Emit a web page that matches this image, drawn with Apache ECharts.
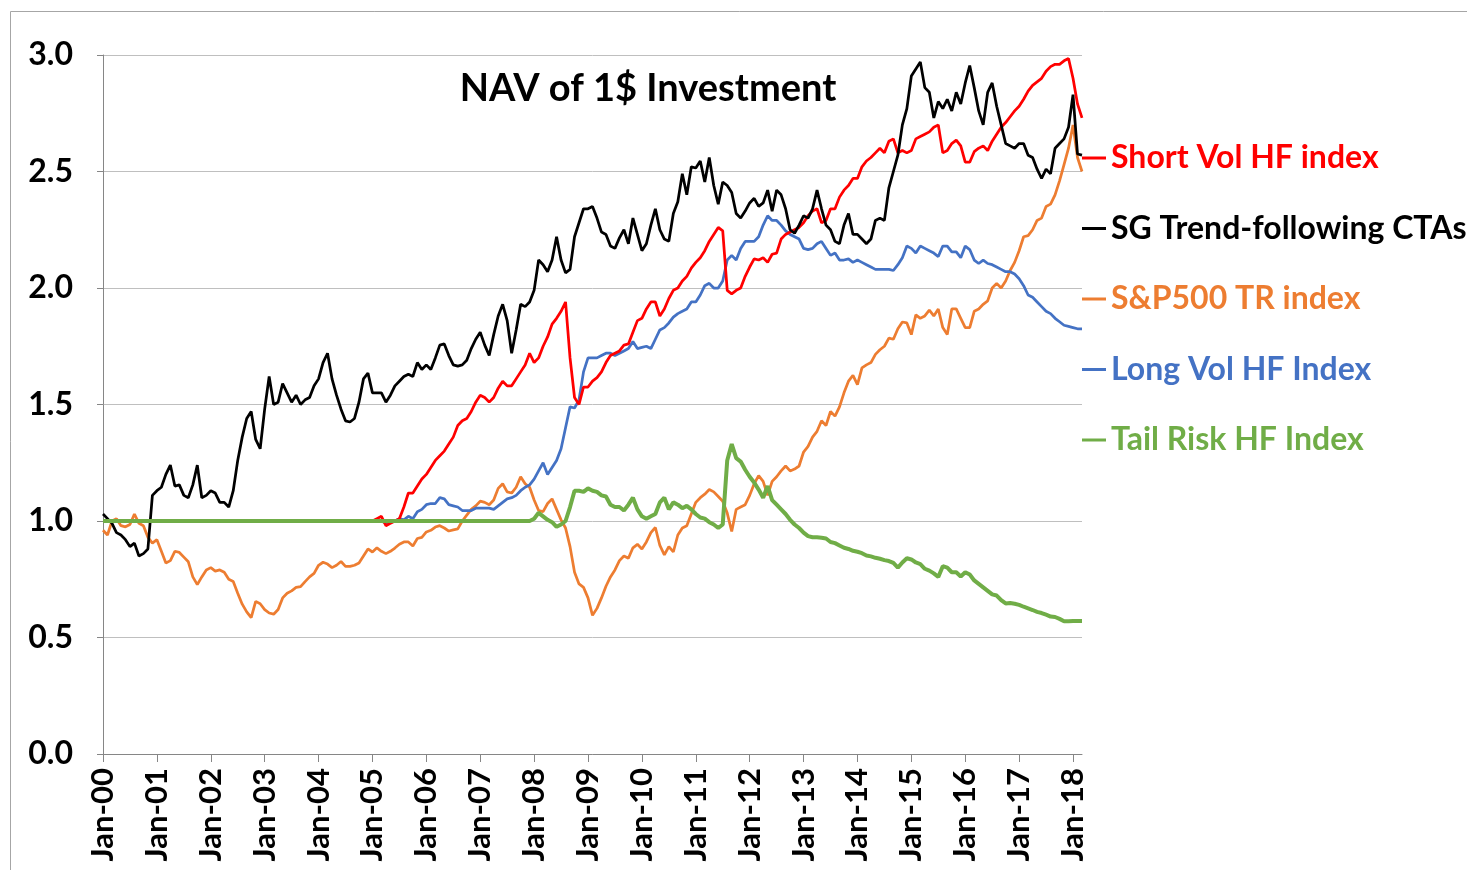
<!DOCTYPE html>
<html>
<head>
<meta charset="utf-8">
<title>NAV of 1$ Investment</title>
<script src="https://cdn.jsdelivr.net/npm/echarts@6/dist/echarts.min.js"></script>
<style>
  html, body { margin: 0; padding: 0; background: #fff; }
  #chart { width: 1467px; height: 870px; }
</style>
</head>
<body>
<div id="chart"></div>
<script>
// month labels Jan-00 .. Mar-18
const monthNames = ['Jan','Feb','Mar','Apr','May','Jun','Jul','Aug','Sep','Oct','Nov','Dec'];
const categories = [];
for (let y = 0; y <= 18; y++) {
  for (let m = 0; m < 12; m++) {
    if (y === 18 && m > 2) break;
    categories.push(monthNames[m] + '-' + String(y).padStart(2, '0'));
  }
}

// one row per year (2018: Jan-Mar)
const shortVol = [
  1.0, 1.0, 1.0, 1.0, 1.0, 1.0, 1.0, 1.0, 1.0, 1.0, 1.0, 1.0,
  1.0, 1.0, 1.0, 1.0, 1.0, 1.0, 1.0, 1.0, 1.0, 1.0, 1.0, 1.0,
  1.0, 1.0, 1.0, 1.0, 1.0, 1.0, 1.0, 1.0, 1.0, 1.0, 1.0, 1.0,
  1.0, 1.0, 1.0, 1.0, 1.0, 1.0, 1.0, 1.0, 1.0, 1.0, 1.0, 1.0,
  1.0, 1.0, 1.0, 1.0, 1.0, 1.0, 1.0, 1.0, 1.0, 1.0, 1.0, 1.0,
  1.0, 1.01, 1.02, 0.98, 0.99, 1.0, 1.01, 1.06, 1.12, 1.12, 1.15, 1.18,
  1.20, 1.23, 1.26, 1.28, 1.30, 1.33, 1.36, 1.41, 1.43, 1.44, 1.47, 1.51,
  1.54, 1.53, 1.51, 1.53, 1.57, 1.60, 1.58, 1.58, 1.61, 1.64, 1.67, 1.72,
  1.68, 1.70, 1.75, 1.79, 1.845, 1.87, 1.90, 1.94, 1.70, 1.53, 1.50, 1.575,
  1.575, 1.60, 1.615, 1.64, 1.68, 1.71, 1.72, 1.73, 1.755, 1.76, 1.81, 1.86,
  1.87, 1.91, 1.94, 1.94, 1.88, 1.91, 1.955, 1.99, 2.00, 2.03, 2.05, 2.085,
  2.11, 2.13, 2.16, 2.20, 2.23, 2.26, 2.245, 1.99, 1.975, 1.99, 2.00, 2.05,
  2.09, 2.125, 2.12, 2.13, 2.11, 2.145, 2.15, 2.21, 2.23, 2.24, 2.25, 2.26,
  2.28, 2.31, 2.33, 2.34, 2.28, 2.29, 2.34, 2.34, 2.39, 2.42, 2.44, 2.47,
  2.47, 2.52, 2.545, 2.56, 2.58, 2.60, 2.58, 2.63, 2.64, 2.58, 2.59, 2.58,
  2.59, 2.64, 2.65, 2.66, 2.67, 2.69, 2.70, 2.58, 2.59, 2.62, 2.635, 2.61,
  2.54, 2.54, 2.585, 2.60, 2.61, 2.59, 2.63, 2.66, 2.69, 2.71, 2.735, 2.76,
  2.78, 2.81, 2.845, 2.87, 2.885, 2.90, 2.93, 2.95, 2.96, 2.96, 2.975, 2.985,
  2.90, 2.79, 2.73
];

const sgTrend = [
  1.03, 1.01, 0.99, 0.95, 0.94, 0.92, 0.89, 0.905, 0.85, 0.86, 0.88, 1.11,
  1.13, 1.145, 1.20, 1.24, 1.15, 1.155, 1.11, 1.10, 1.155, 1.24, 1.10, 1.11,
  1.13, 1.12, 1.08, 1.08, 1.06, 1.13, 1.26, 1.36, 1.44, 1.47, 1.35, 1.31,
  1.48, 1.62, 1.50, 1.51, 1.59, 1.55, 1.51, 1.54, 1.50, 1.52, 1.53, 1.58,
  1.61, 1.68, 1.72, 1.61, 1.54, 1.48, 1.43, 1.425, 1.44, 1.51, 1.61, 1.635,
  1.55, 1.55, 1.55, 1.51, 1.54, 1.58, 1.60, 1.62, 1.63, 1.62, 1.68, 1.65,
  1.67, 1.65, 1.70, 1.755, 1.76, 1.71, 1.67, 1.665, 1.67, 1.69, 1.74, 1.78,
  1.81, 1.755, 1.71, 1.80, 1.88, 1.93, 1.86, 1.72, 1.82, 1.93, 1.92, 1.94,
  1.99, 2.12, 2.10, 2.07, 2.12, 2.22, 2.12, 2.065, 2.08, 2.22, 2.28, 2.34,
  2.34, 2.35, 2.30, 2.24, 2.23, 2.18, 2.17, 2.215, 2.25, 2.19, 2.30, 2.23,
  2.16, 2.19, 2.27, 2.34, 2.25, 2.21, 2.20, 2.32, 2.37, 2.49, 2.40, 2.52,
  2.515, 2.545, 2.455, 2.56, 2.44, 2.36, 2.455, 2.44, 2.41, 2.32, 2.30, 2.33,
  2.365, 2.385, 2.35, 2.365, 2.42, 2.33, 2.42, 2.40, 2.34, 2.25, 2.235, 2.27,
  2.31, 2.30, 2.34, 2.42, 2.34, 2.27, 2.25, 2.20, 2.19, 2.27, 2.32, 2.23,
  2.23, 2.21, 2.19, 2.21, 2.29, 2.30, 2.29, 2.43, 2.50, 2.57, 2.70, 2.77,
  2.91, 2.94, 2.97, 2.86, 2.84, 2.73, 2.80, 2.77, 2.81, 2.76, 2.84, 2.79,
  2.88, 2.955, 2.86, 2.76, 2.70, 2.84, 2.88, 2.78, 2.70, 2.62, 2.61, 2.60,
  2.62, 2.62, 2.57, 2.56, 2.51, 2.47, 2.51, 2.49, 2.60, 2.62, 2.64, 2.69,
  2.83, 2.575, 2.57
];

const sp500 = [
  0.96, 0.94, 1.0, 1.01, 0.98, 0.975, 0.985, 1.03, 0.99, 0.98, 0.93, 0.905,
  0.92, 0.87, 0.82, 0.83, 0.87, 0.865, 0.845, 0.825, 0.76, 0.727, 0.76, 0.79,
  0.80, 0.785, 0.79, 0.78, 0.75, 0.74, 0.69, 0.643, 0.61, 0.585, 0.655, 0.645,
  0.62, 0.605, 0.60, 0.62, 0.67, 0.69, 0.70, 0.715, 0.718, 0.74, 0.76, 0.775,
  0.81, 0.823, 0.815, 0.80, 0.81, 0.826, 0.805, 0.805, 0.81, 0.82, 0.85, 0.88,
  0.867, 0.885, 0.87, 0.86, 0.87, 0.884, 0.90, 0.91, 0.91, 0.893, 0.925, 0.93,
  0.953, 0.96, 0.974, 0.98, 0.97, 0.957, 0.962, 0.966, 1.0, 1.025, 1.05, 1.065,
  1.085, 1.08, 1.07, 1.09, 1.14, 1.16, 1.125, 1.12, 1.145, 1.19, 1.16, 1.145,
  1.09, 1.045, 1.04, 1.075, 1.095, 1.05, 1.005, 0.97, 0.89, 0.78, 0.73, 0.715,
  0.67, 0.595, 0.625, 0.67, 0.72, 0.76, 0.79, 0.83, 0.85, 0.84, 0.885, 0.90,
  0.88, 0.91, 0.95, 0.972, 0.895, 0.855, 0.89, 0.867, 0.94, 0.97, 0.98, 1.03,
  1.08, 1.10, 1.115, 1.135, 1.125, 1.105, 1.085, 1.034, 0.955, 1.05, 1.06, 1.07,
  1.11, 1.16, 1.195, 1.17, 1.11, 1.17, 1.19, 1.215, 1.236, 1.215, 1.223, 1.236,
  1.296, 1.32, 1.36, 1.385, 1.43, 1.41, 1.47, 1.45, 1.49, 1.55, 1.60, 1.625,
  1.585, 1.657, 1.67, 1.68, 1.715, 1.735, 1.75, 1.785, 1.78, 1.825, 1.854, 1.85,
  1.80, 1.885, 1.87, 1.88, 1.905, 1.88, 1.91, 1.83, 1.80, 1.91, 1.91, 1.87,
  1.83, 1.83, 1.90, 1.91, 1.93, 1.945, 2.0, 2.02, 2.0, 2.03, 2.075, 2.11,
  2.16, 2.22, 2.225, 2.25, 2.29, 2.30, 2.35, 2.36, 2.40, 2.46, 2.53, 2.60,
  2.70, 2.56, 2.50
];

const longVol = [
  1.0, 1.0, 1.0, 1.0, 1.0, 1.0, 1.0, 1.0, 1.0, 1.0, 1.0, 1.0,
  1.0, 1.0, 1.0, 1.0, 1.0, 1.0, 1.0, 1.0, 1.0, 1.0, 1.0, 1.0,
  1.0, 1.0, 1.0, 1.0, 1.0, 1.0, 1.0, 1.0, 1.0, 1.0, 1.0, 1.0,
  1.0, 1.0, 1.0, 1.0, 1.0, 1.0, 1.0, 1.0, 1.0, 1.0, 1.0, 1.0,
  1.0, 1.0, 1.0, 1.0, 1.0, 1.0, 1.0, 1.0, 1.0, 1.0, 1.0, 1.0,
  1.0, 1.0, 1.0, 0.99, 0.995, 1.0, 1.01, 1.005, 1.02, 1.01, 1.04, 1.05,
  1.07, 1.075, 1.075, 1.10, 1.095, 1.07, 1.065, 1.06, 1.045, 1.045, 1.045, 1.055,
  1.055, 1.055, 1.055, 1.05, 1.065, 1.08, 1.095, 1.10, 1.11, 1.13, 1.145, 1.155,
  1.18, 1.215, 1.25, 1.20, 1.23, 1.26, 1.31, 1.40, 1.49, 1.485, 1.52, 1.64,
  1.70, 1.70, 1.70, 1.71, 1.72, 1.72, 1.71, 1.72, 1.73, 1.74, 1.77, 1.74,
  1.745, 1.75, 1.74, 1.78, 1.82, 1.83, 1.85, 1.875, 1.89, 1.90, 1.91, 1.94,
  1.94, 1.97, 2.01, 2.02, 2.00, 2.00, 2.03, 2.12, 2.14, 2.12, 2.17, 2.20,
  2.20, 2.20, 2.22, 2.27, 2.31, 2.29, 2.29, 2.27, 2.245, 2.23, 2.22, 2.21,
  2.17, 2.165, 2.17, 2.19, 2.20, 2.17, 2.14, 2.15, 2.12, 2.12, 2.125, 2.11,
  2.12, 2.11, 2.10, 2.09, 2.08, 2.08, 2.08, 2.08, 2.075, 2.10, 2.13, 2.18,
  2.17, 2.15, 2.18, 2.17, 2.16, 2.15, 2.135, 2.18, 2.18, 2.155, 2.155, 2.13,
  2.18, 2.165, 2.12, 2.105, 2.12, 2.105, 2.10, 2.09, 2.08, 2.07, 2.07, 2.06,
  2.04, 2.01, 1.97, 1.96, 1.94, 1.92, 1.90, 1.89, 1.87, 1.855, 1.84, 1.835,
  1.83, 1.825, 1.825
];

const tailRisk = [
  1.0, 1.0, 1.0, 1.0, 1.0, 1.0, 1.0, 1.0, 1.0, 1.0, 1.0, 1.0,
  1.0, 1.0, 1.0, 1.0, 1.0, 1.0, 1.0, 1.0, 1.0, 1.0, 1.0, 1.0,
  1.0, 1.0, 1.0, 1.0, 1.0, 1.0, 1.0, 1.0, 1.0, 1.0, 1.0, 1.0,
  1.0, 1.0, 1.0, 1.0, 1.0, 1.0, 1.0, 1.0, 1.0, 1.0, 1.0, 1.0,
  1.0, 1.0, 1.0, 1.0, 1.0, 1.0, 1.0, 1.0, 1.0, 1.0, 1.0, 1.0,
  1.0, 1.0, 1.0, 1.0, 1.0, 1.0, 1.0, 1.0, 1.0, 1.0, 1.0, 1.0,
  1.0, 1.0, 1.0, 1.0, 1.0, 1.0, 1.0, 1.0, 1.0, 1.0, 1.0, 1.0,
  1.0, 1.0, 1.0, 1.0, 1.0, 1.0, 1.0, 1.0, 1.0, 1.0, 1.0, 1.0,
  1.01, 1.035, 1.02, 1.005, 0.995, 0.975, 0.985, 1.0, 1.06, 1.13, 1.13, 1.125,
  1.14, 1.13, 1.125, 1.11, 1.105, 1.07, 1.06, 1.06, 1.045, 1.07, 1.10, 1.05,
  1.02, 1.01, 1.02, 1.03, 1.08, 1.10, 1.05, 1.08, 1.07, 1.055, 1.065, 1.05,
  1.03, 1.015, 1.01, 0.995, 0.985, 0.97, 0.985, 1.26, 1.33, 1.27, 1.255, 1.22,
  1.19, 1.165, 1.135, 1.10, 1.15, 1.09, 1.07, 1.05, 1.03, 1.005, 0.985, 0.97,
  0.95, 0.935, 0.93, 0.93, 0.928, 0.925, 0.91, 0.905, 0.895, 0.885, 0.88, 0.872,
  0.868, 0.862, 0.852, 0.848, 0.842, 0.838, 0.832, 0.828, 0.82, 0.80, 0.822, 0.84,
  0.835, 0.822, 0.815, 0.795, 0.787, 0.775, 0.76, 0.806, 0.80, 0.78, 0.78, 0.762,
  0.78, 0.77, 0.745, 0.73, 0.715, 0.70, 0.685, 0.68, 0.66, 0.646, 0.648, 0.645,
  0.64, 0.632, 0.625, 0.618, 0.61, 0.605, 0.598, 0.59, 0.588, 0.58, 0.57, 0.57,
  0.571, 0.571, 0.571
];

const yTicks = [0, 0.5, 1.0, 1.5, 2.0, 2.5, 3.0];

const FONT = 'Lato';

const chart = echarts.init(document.getElementById('chart'));

const option = {
  animation: false,
  backgroundColor: '#fff',
  title: {
    text: 'NAV of 1$ Investment',
    left: 648,
    textAlign: 'center',
    top: 70,
    padding: 0,
    textStyle: { fontFamily: FONT, fontSize: 38, fontWeight: 'bold', color: '#000' }
  },
  graphic: [{
    // slide frame, cut by the picture edge
    type: 'rect',
    silent: true,
    shape: { x: 10.5, y: 11.5, width: 1500, height: 900 },
    style: { fill: 'none', stroke: '#a6a6a6', lineWidth: 1 }
  }],
  legend: {
    orient: 'vertical',
    left: 1082,
    top: 142,
    padding: 0,
    icon: 'rect',
    itemWidth: 24,
    itemHeight: 3,
    itemGap: 38.5,
    textStyle: { fontFamily: FONT, fontSize: 32, fontWeight: 'bold', lineHeight: 32 },
    data: [
      { name: 'Short Vol HF index', textStyle: { color: '#ff0000' } },
      { name: 'SG Trend-following CTAs', textStyle: { color: '#000000' } },
      { name: 'S&P500 TR index', textStyle: { color: '#ed7d31' } },
      { name: 'Long Vol HF Index', textStyle: { color: '#4472c4' } },
      { name: 'Tail Risk HF Index', textStyle: { color: '#70ad47' } }
    ]
  },
  grid: { left: 103, right: 385, top: 55, bottom: 116, containLabel: false },
  xAxis: {
    type: 'category',
    data: categories,
    boundaryGap: false,
    axisLine: { lineStyle: { color: '#868686', width: 1 } },
    axisTick: {
      show: true,
      interval: (i) => i % 12 === 0,
      length: 8,
      lineStyle: { color: '#868686' }
    },
    axisLabel: {
      interval: (i) => i % 12 === 0,
      rotate: 90,
      margin: 14,
      fontFamily: FONT,
      fontSize: 31,
      fontWeight: 'bold',
      color: '#000'
    },
    splitLine: { show: false }
  },
  yAxis: {
    type: 'value',
    min: yTicks[0],
    max: yTicks[yTicks.length - 1],
    interval: 0.5,
    axisLine: { show: true, lineStyle: { color: '#868686', width: 1 } },
    axisTick: { show: true, length: 6, lineStyle: { color: '#868686' } },
    axisLabel: {
      formatter: (v) => v.toFixed(1),
      margin: 30,
      fontFamily: FONT,
      fontSize: 32,
      fontWeight: 'bold',
      color: '#000'
    },
    splitLine: { lineStyle: { color: '#bfbfbf', width: 1 } }
  },
  series: [
    {
      name: 'S&P500 TR index', type: 'line', data: sp500, symbol: 'none',
      itemStyle: { color: '#ed7d31' }, lineStyle: { color: '#ed7d31', width: 2.75 }
    },
    {
      name: 'Long Vol HF Index', type: 'line', data: longVol, symbol: 'none',
      itemStyle: { color: '#4472c4' }, lineStyle: { color: '#4472c4', width: 2.75 }
    },
    {
      name: 'Short Vol HF index', type: 'line', data: shortVol, symbol: 'none',
      itemStyle: { color: '#ff0000' }, lineStyle: { color: '#ff0000', width: 2.75 }
    },
    {
      name: 'SG Trend-following CTAs', type: 'line', data: sgTrend, symbol: 'none',
      itemStyle: { color: '#000000' }, lineStyle: { color: '#000000', width: 2.75 }
    },
    {
      name: 'Tail Risk HF Index', type: 'line', data: tailRisk, symbol: 'none',
      itemStyle: { color: '#70ad47' }, lineStyle: { color: '#70ad47', width: 4 }
    }
  ]
};

chart.setOption(option);
window.addEventListener('resize', () => chart.resize());
</script>
</body>
</html>
